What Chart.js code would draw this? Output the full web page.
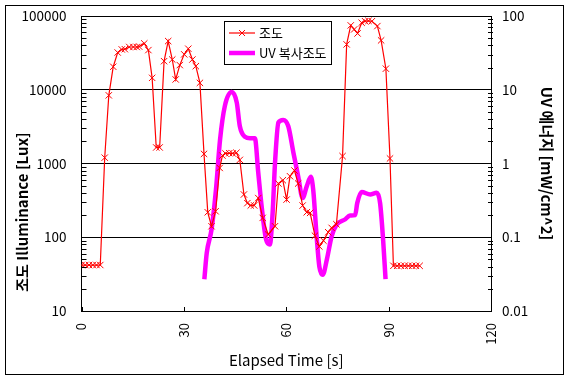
<!DOCTYPE html>
<html><head><meta charset="utf-8">
<script src="https://cdn.jsdelivr.net/npm/chart.js@4.4.0/dist/chart.umd.min.js"></script>
<style>html,body{margin:0;padding:0;background:#fff;} canvas{display:block;}</style>
</head><body>
<canvas id="c" width="570" height="380"></canvas>
<script>
// ---- data ----
const luxTime = [0,1.1,2.2,3.3,4.4,5.5,6.8,8.0,9.3,10.6,11.8,12.7,14.0,15.2,16.2,16.9,18.4,19.6,20.7,21.9,22.9,24.2,25.4,26.6,27.6,28.8,30.1,31.3,32.5,33.5,34.7,35.9,37.0,38.1,39.3,40.5,41.3,42.2,43.3,44.3,45.4,46.4,47.6,48.6,49.6,50.6,51.8,53.1,54.7,56.7,57.7,59.0,60.1,61.1,62.4,63.5,64.8,66.0,67.0,68.4,69.7,70.9,72.3,73.3,74.7,76.5,77.7,78.9,79.9,80.9,82.1,83.1,84.1,85.1,86.7,87.8,89.2,90.4,91.4,92.5,93.6,94.7,95.8,96.9,98.0,99.1];
const luxValues = [42,42,42,42,42,42,1200,8400,20500,32000,35200,35500,38000,38000,38000,38500,42500,34500,14500,1650,1650,24400,45700,25700,13800,21600,30200,36000,25700,20900,12400,1350,218,141,225,870,1280,1370,1380,1370,1400,1120,380,290,270,270,340,183,109,141,535,593,324,672,804,535,269,218,214,105,75,90,117,134,150,1260,41200,74600,65800,58000,81000,85000,86000,85000,73000,46700,19300,1170,41,41,41,41,41,41,41,41];
const uvTime = [36.0,36.7,38.1,39.4,40.6,42.0,44.0,45.5,46.4,47.9,49.4,50.8,51.8,52.8,54.1,55.2,56.0,56.7,57.7,59.1,60.6,62.1,63.5,64.8,66.0,67.2,67.9,68.9,69.7,70.7,71.9,73.3,74.8,77.2,78.7,80.2,80.8,82.1,84.6,86.5,87.5,88.4,89.1];
const uvValues = [0.027,0.061,0.127,0.44,2.1,6.0,9.3,6.7,3.2,2.3,2.2,2.2,0.75,0.26,0.093,0.08,0.21,1.0,3.6,3.9,3.2,1.4,0.67,0.34,0.49,0.66,0.44,0.103,0.04,0.031,0.05,0.103,0.149,0.174,0.197,0.2,0.29,0.41,0.38,0.4,0.29,0.09,0.027];
const xTicks = [0,30,60,90,120];
const xTickLabels = ['0','30','60','90','120'];
const luxTicks = [10,100,1000,10000,100000];
const luxTickLabels = ['10','100','1000','10000','100000'];
const uvTicks = [0.01,0.1,1,10,100];
const uvTickLabels = ['0.01','0.1','1','10','100'];
const seriesLabels = ['조도','UV 복사조도'];
const xTitle = 'Elapsed Time [s]';
const yTitle = '조도 Illuminance [Lux]';
const y2Title = 'UV 에너지 [mW/cm^2]';

const FONT = "'Noto Sans CJK KR', 'Noto Sans', sans-serif";
const RED = '#ff0000', MAG = '#ff00ff';

function zeroPad(s) { s.paddingTop = 0; s.paddingBottom = 0; s.paddingLeft = 0; s.paddingRight = 0; }

const decor = {
  id: 'decor',
  beforeDraw(chart) {
    const ctx = chart.ctx;
    ctx.save(); ctx.fillStyle = '#fff'; ctx.fillRect(0, 0, chart.width, chart.height); ctx.restore();
  },
  afterDraw(chart) {
    const {ctx, chartArea: a, scales} = chart;
    ctx.save();
    ctx.strokeStyle = '#000'; ctx.lineWidth = 1;
    ctx.strokeRect(5.5, 5.5, 558, 369);
    ctx.beginPath();
    for (let i = 0; i < luxTicks.length - 1; i++) {
      for (let k = 2; k <= 9; k++) {
        const y = Math.round(scales.y.getPixelForValue(luxTicks[i] * k)) + 0.5;
        ctx.moveTo(a.left, y); ctx.lineTo(a.left + 5, y);
      }
    }
    for (let i = 0; i < uvTicks.length - 1; i++) {
      for (let k = 2; k <= 9; k++) {
        const y = Math.round(scales.y2.getPixelForValue(uvTicks[i] * k)) + 0.5;
        ctx.moveTo(a.right - 3, y); ctx.lineTo(a.right + 2, y);
      }
    }
    xTicks.forEach(v => {
      const x = Math.round(scales.x.getPixelForValue(v)) + 0.5;
      ctx.moveTo(x, a.bottom - 4); ctx.lineTo(x, a.bottom);
    });
    ctx.stroke();
    // left axis title
    ctx.save();
    ctx.translate(22, 212); ctx.rotate(-Math.PI / 2);
    ctx.fillStyle = '#000'; ctx.font = 'bold 15px ' + FONT;
    ctx.textAlign = 'center'; ctx.textBaseline = 'middle';
    ctx.fillText(yTitle, 0, 0);
    ctx.restore();
    // legend
    const lx = 224.5, ly = 21.5, lw = 107, lh = 43;
    ctx.fillStyle = '#fff'; ctx.fillRect(lx, ly, lw, lh);
    ctx.strokeRect(lx, ly, lw, lh);
    const ds = chart.data.datasets;
    const rows = [33, 53];
    ds.forEach((d, i) => {
      const y = rows[i];
      ctx.strokeStyle = d.borderColor; ctx.lineWidth = d.borderWidth;
      ctx.beginPath(); ctx.moveTo(229, y); ctx.lineTo(255, y); ctx.stroke();
      if (i === 0) {
        ctx.lineWidth = 1;
        ctx.beginPath();
        ctx.moveTo(239, y - 3); ctx.lineTo(245, y + 3);
        ctx.moveTo(245, y - 3); ctx.lineTo(239, y + 3);
        ctx.stroke();
      }
      ctx.fillStyle = '#000'; ctx.font = '13px ' + FONT;
      ctx.textAlign = 'left'; ctx.textBaseline = 'middle';
      ctx.fillText(d.label, 259, y);
    });
    ctx.restore();
  }
};

new Chart(document.getElementById('c'), {
  type: 'line',
  data: {
    datasets: [
      {
        label: seriesLabels[0],
        data: luxTime.map((t, i) => ({x: t, y: luxValues[i]})),
        yAxisID: 'y',
        borderColor: RED, backgroundColor: RED, borderWidth: 1.2,
        pointStyle: 'crossRot', pointRadius: 4.5, pointBorderWidth: 1,
        pointBorderColor: RED, tension: 0, fill: false
      },
      {
        label: seriesLabels[1],
        data: uvTime.map((t, i) => ({x: t, y: uvValues[i]})),
        yAxisID: 'y2',
        borderColor: MAG, backgroundColor: MAG, borderWidth: 4.5,
        pointRadius: 0, cubicInterpolationMode: 'monotone', fill: false
      }
    ]
  },
  options: {
    responsive: false, animation: false,
    layout: {padding: {top: 16, left: 0, right: 0, bottom: 0}},
    plugins: {legend: {display: false}, tooltip: {enabled: false}},
    scales: {
      x: {
        type: 'linear', min: 0, max: 120,
        afterBuildTicks: s => { s.ticks = xTicks.map(v => ({value: v})); },
        afterFit: s => { s.height = 69; zeroPad(s); },
        grid: {display: false, drawTicks: false},
        border: {display: true, color: '#000', width: 1},
        ticks: {
          color: '#000', font: {family: FONT, size: 13}, padding: 12,
          minRotation: 90, maxRotation: 90,
          callback: (v, i) => xTickLabels[xTicks.indexOf(v)]
        },
        title: {display: true, text: xTitle, color: '#000', font: {family: FONT, size: 15}, padding: {top: 0, bottom: 11}}
      },
      y: {
        type: 'logarithmic', position: 'left', min: 10, max: 100000,
        afterBuildTicks: s => { s.ticks = luxTicks.map(v => ({value: v})); },
        afterFit: s => { s.width = 81.5; zeroPad(s); },
        grid: {color: '#000', lineWidth: 1, drawTicks: false},
        border: {display: true, color: '#000', width: 1},
        ticks: {
          color: '#000', font: {family: FONT, size: 13.5}, padding: 15,
          callback: v => luxTickLabels[luxTicks.indexOf(v)]
        }
      },
      y2: {
        type: 'logarithmic', position: 'right', min: 0.01, max: 100,
        afterBuildTicks: s => { s.ticks = uvTicks.map(v => ({value: v})); },
        afterFit: s => { s.width = 79; zeroPad(s); },
        grid: {display: false, drawTicks: false},
        border: {display: true, color: '#000', width: 1},
        ticks: {
          color: '#000', font: {family: FONT, size: 13.5}, padding: 11,
          callback: v => uvTickLabels[uvTicks.findIndex(u => Math.abs(u - v) / u < 1e-6)]
        },
        title: {display: true, text: y2Title, color: '#000', font: {family: FONT, size: 15, weight: 'bold'}, padding: {top: 14, bottom: 0}}
      }
    }
  },
  plugins: [decor]
});
</script>
</body></html>
